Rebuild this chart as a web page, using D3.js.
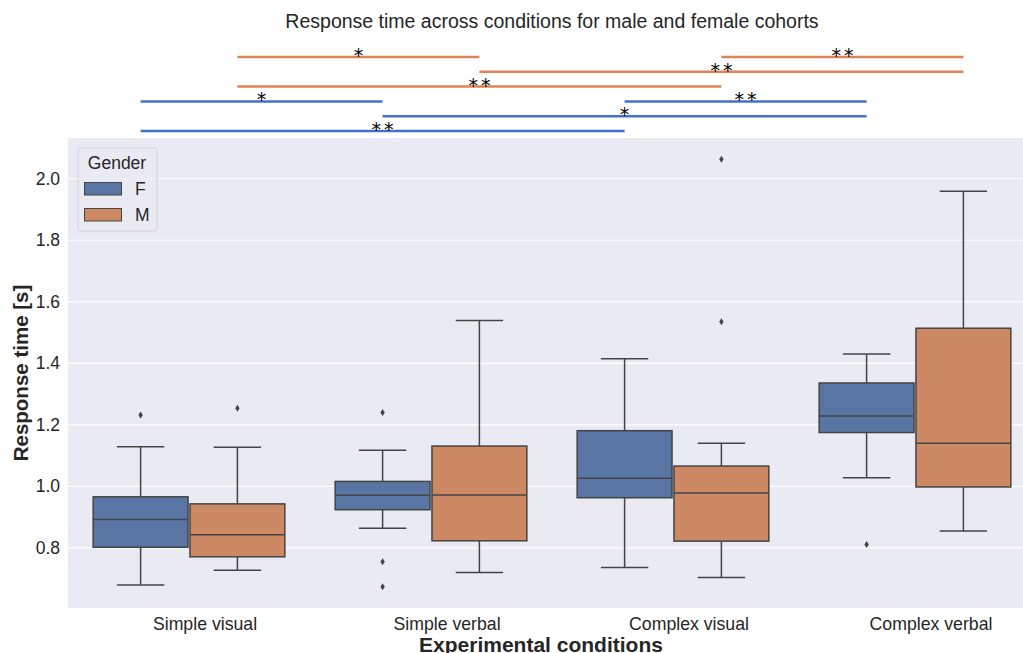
<!DOCTYPE html>
<meta charset="utf-8">
<style>
body { margin: 0; background: #fff; }
text { font-family: "Liberation Sans", Arial, sans-serif; fill: #262626; }
.grid line { stroke: #fff; stroke-width: 1.2; }
.box { stroke: #444; stroke-width: 1.5; }
.whisker { stroke: #444; stroke-width: 1.5; fill: none; }
.flier { fill: #444; }
.star { font-family: "DejaVu Sans", sans-serif; fill: #000; }
</style>
<body></body>
<script src="https://d3js.org/d3.v7.min.js"></script>
<script>
// categories and groups
var conditions = ["Simple visual", "Simple verbal", "Complex visual", "Complex verbal"];
var genders = ["F", "M"];
var genderColors = ["#5875a4", "#cc8963"];   // desaturated box fills
var sigColors = ["#4472c4", "#dd8452"];      // significance bar colours

// box stats per condition: [lower whisker, Q1, median, Q3, upper whisker]
var boxF = [
  [0.679, 0.802, 0.892, 0.966, 1.129],
  [0.864, 0.924, 0.971, 1.016, 1.117],
  [0.736, 0.963, 1.026, 1.181, 1.415],
  [1.028, 1.175, 1.229, 1.336, 1.430]
];
var boxM = [
  [0.727, 0.771, 0.843, 0.943, 1.127],
  [0.720, 0.823, 0.972, 1.131, 1.539],
  [0.704, 0.822, 0.978, 1.066, 1.140],
  [0.855, 0.998, 1.140, 1.514, 1.959]
];
var outliersF = [[1.232], [1.240, 0.755, 0.674], [], [0.811]];
var outliersM = [[1.254], [], [2.063, 1.535], []];

var yTicks = [0.8, 1.0, 1.2, 1.4, 1.6, 1.8, 2.0];

// significance comparisons: gender index, from condition, to condition, label, stacking row
var sigPairs = [
  {g: 0, a: 0, b: 2, label: "**", row: 0},
  {g: 0, a: 1, b: 3, label: "*",  row: 1},
  {g: 0, a: 0, b: 1, label: "*",  row: 2},
  {g: 0, a: 2, b: 3, label: "**", row: 2},
  {g: 1, a: 0, b: 2, label: "**", row: 3},
  {g: 1, a: 1, b: 3, label: "**", row: 4},
  {g: 1, a: 0, b: 1, label: "*",  row: 5},
  {g: 1, a: 2, b: 3, label: "**", row: 5}
];

var W = 1023, H = 653;
var plot = {left: 68, right: 1036, top: 138, bottom: 608};

var svg = d3.select("body").append("svg")
    .attr("width", W)
    .attr("height", H);

// y domain with 5% padding like matplotlib autoscale
var allVals = [];
boxF.concat(boxM).forEach(function(b) { allVals = allVals.concat(b); });
outliersF.concat(outliersM).forEach(function(o) { allVals = allVals.concat(o); });
var ext = d3.extent(allVals), pad = (ext[1] - ext[0]) * 0.05;

var y = d3.scaleLinear()
    .domain([ext[0] - pad, ext[1] + pad])
    .range([plot.bottom, plot.top]);

var x = d3.scaleBand()
    .domain(conditions)
    .range([plot.left, plot.right])
    .padding(0);

var hue = d3.scaleBand()
    .domain(genders)
    .range([-0.4 * x.bandwidth(), 0.4 * x.bandwidth()]);

var boxW = hue.bandwidth() * 0.98;
function cx(ci, gi) { return x(conditions[ci]) + x.bandwidth() / 2 + hue(genders[gi]) + hue.bandwidth() / 2; }

// background
svg.append("rect")
    .attr("x", plot.left).attr("y", plot.top)
    .attr("width", plot.right - plot.left)
    .attr("height", plot.bottom - plot.top)
    .attr("fill", "#eaeaf2");

// grid
svg.append("g")
    .attr("class", "grid")
    .selectAll("line")
    .data(yTicks)
  .enter().append("line")
    .attr("x1", plot.left).attr("x2", plot.right)
    .attr("y1", function(d) { return y(d); })
    .attr("y2", function(d) { return y(d); });

// y axis
var yAxis = svg.append("g")
    .attr("transform", "translate(" + plot.left + ",0)")
    .call(d3.axisLeft(y).tickValues(yTicks).tickFormat(d3.format(".1f")).tickSize(0).tickPadding(8));
yAxis.select(".domain").remove();
yAxis.selectAll("text").style("font-size", "17.5px").attr("fill", "#262626");

// x axis
var xAxis = svg.append("g")
    .attr("transform", "translate(0," + plot.bottom + ")")
    .call(d3.axisBottom(x).tickSize(0).tickPadding(9));
xAxis.select(".domain").remove();
xAxis.selectAll("text").style("font-size", "17.7px").attr("fill", "#262626").attr("dx", 16);

// boxes
var boxes = [boxF, boxM], fliers = [outliersF, outliersM];
genders.forEach(function(g, gi) {
  var grp = svg.append("g");
  boxes[gi].forEach(function(s, ci) {
    var c = cx(ci, gi);
    // whiskers
    grp.append("line").attr("class", "whisker")
        .attr("x1", c).attr("x2", c).attr("y1", y(s[0])).attr("y2", y(s[1]));
    grp.append("line").attr("class", "whisker")
        .attr("x1", c).attr("x2", c).attr("y1", y(s[3])).attr("y2", y(s[4]));
    [s[0], s[4]].forEach(function(v) {
      grp.append("line").attr("class", "whisker")
          .attr("x1", c - boxW / 4).attr("x2", c + boxW / 4)
          .attr("y1", y(v)).attr("y2", y(v));
    });
    grp.append("rect").attr("class", "box")
        .attr("x", c - boxW / 2).attr("width", boxW)
        .attr("y", y(s[3])).attr("height", y(s[1]) - y(s[3]))
        .attr("fill", genderColors[gi]);
    grp.append("line").attr("class", "whisker")
        .attr("x1", c - boxW / 2).attr("x2", c + boxW / 2)
        .attr("y1", y(s[2])).attr("y2", y(s[2]));
    // outliers as thin diamonds
    grp.selectAll(null)
        .data(fliers[gi][ci])
      .enter().append("path")
        .attr("class", "flier")
        .attr("d", function(v) {
          var py = y(v);
          return "M" + c + "," + (py - 3.5) + "L" + (c + 2.2) + "," + py +
                 "L" + c + "," + (py + 3.5) + "L" + (c - 2.2) + "," + py + "Z";
        });
  });
});

// significance bars above the axes
var sigBase = plot.top - 7, sigStep = 14.8;
var sig = svg.append("g");
sigPairs.forEach(function(p) {
  var ly = sigBase - p.row * sigStep;
  var x1 = cx(p.a, p.g), x2 = cx(p.b, p.g);
  sig.append("line")
      .attr("x1", x1).attr("x2", x2)
      .attr("y1", ly).attr("y2", ly)
      .attr("stroke", sigColors[p.g])
      .attr("stroke-width", 2.5);
  sig.append("text")
      .attr("class", "star")
      .attr("x", (x1 + x2) / 2)
      .attr("dx", p.label.length > 1 ? 1.5 : 0)
      .attr("y", ly + 5)
      .attr("text-anchor", "middle")
      .style("font-size", "19px")
      .style("letter-spacing", p.label.length > 1 ? "3px" : "0px")
      .text(p.label);
});

// legend
var lg = svg.append("g").attr("transform", "translate(78,148)");
lg.append("rect")
    .attr("width", 79).attr("height", 83)
    .attr("rx", 3)
    .attr("fill", "#eaeaf2").attr("fill-opacity", 0.8)
    .attr("stroke", "#d2d2d8");
lg.append("text")
    .attr("x", 39).attr("y", 21)
    .attr("text-anchor", "middle")
    .style("font-size", "17.5px")
    .text("Gender");
genders.forEach(function(g, i) {
  lg.append("rect")
      .attr("x", 6.5).attr("y", 34.5 + i * 26)
      .attr("width", 37).attr("height", 12.5)
      .attr("fill", genderColors[i])
      .attr("stroke", "#444").attr("stroke-width", 1);
  lg.append("text")
      .attr("x", 57).attr("y", 46.5 + i * 26)
      .style("font-size", "17.5px")
      .text(g);
});

// title and axis labels
svg.append("text")
    .attr("x", (plot.left + plot.right) / 2)
    .attr("y", 28)
    .attr("text-anchor", "middle")
    .style("font-size", "19.5px")
    .text("Response time across conditions for male and female cohorts");

svg.append("text")
    .attr("x", 541)
    .attr("y", 652)
    .attr("text-anchor", "middle")
    .style("font-size", "21px")
    .style("font-weight", "bold")
    .text("Experimental conditions");

svg.append("text")
    .attr("transform", "translate(28," + ((plot.top + plot.bottom) / 2) + ") rotate(-90)")
    .attr("text-anchor", "middle")
    .style("font-size", "20.5px")
    .style("font-weight", "bold")
    .text("Response time [s]");
</script>
